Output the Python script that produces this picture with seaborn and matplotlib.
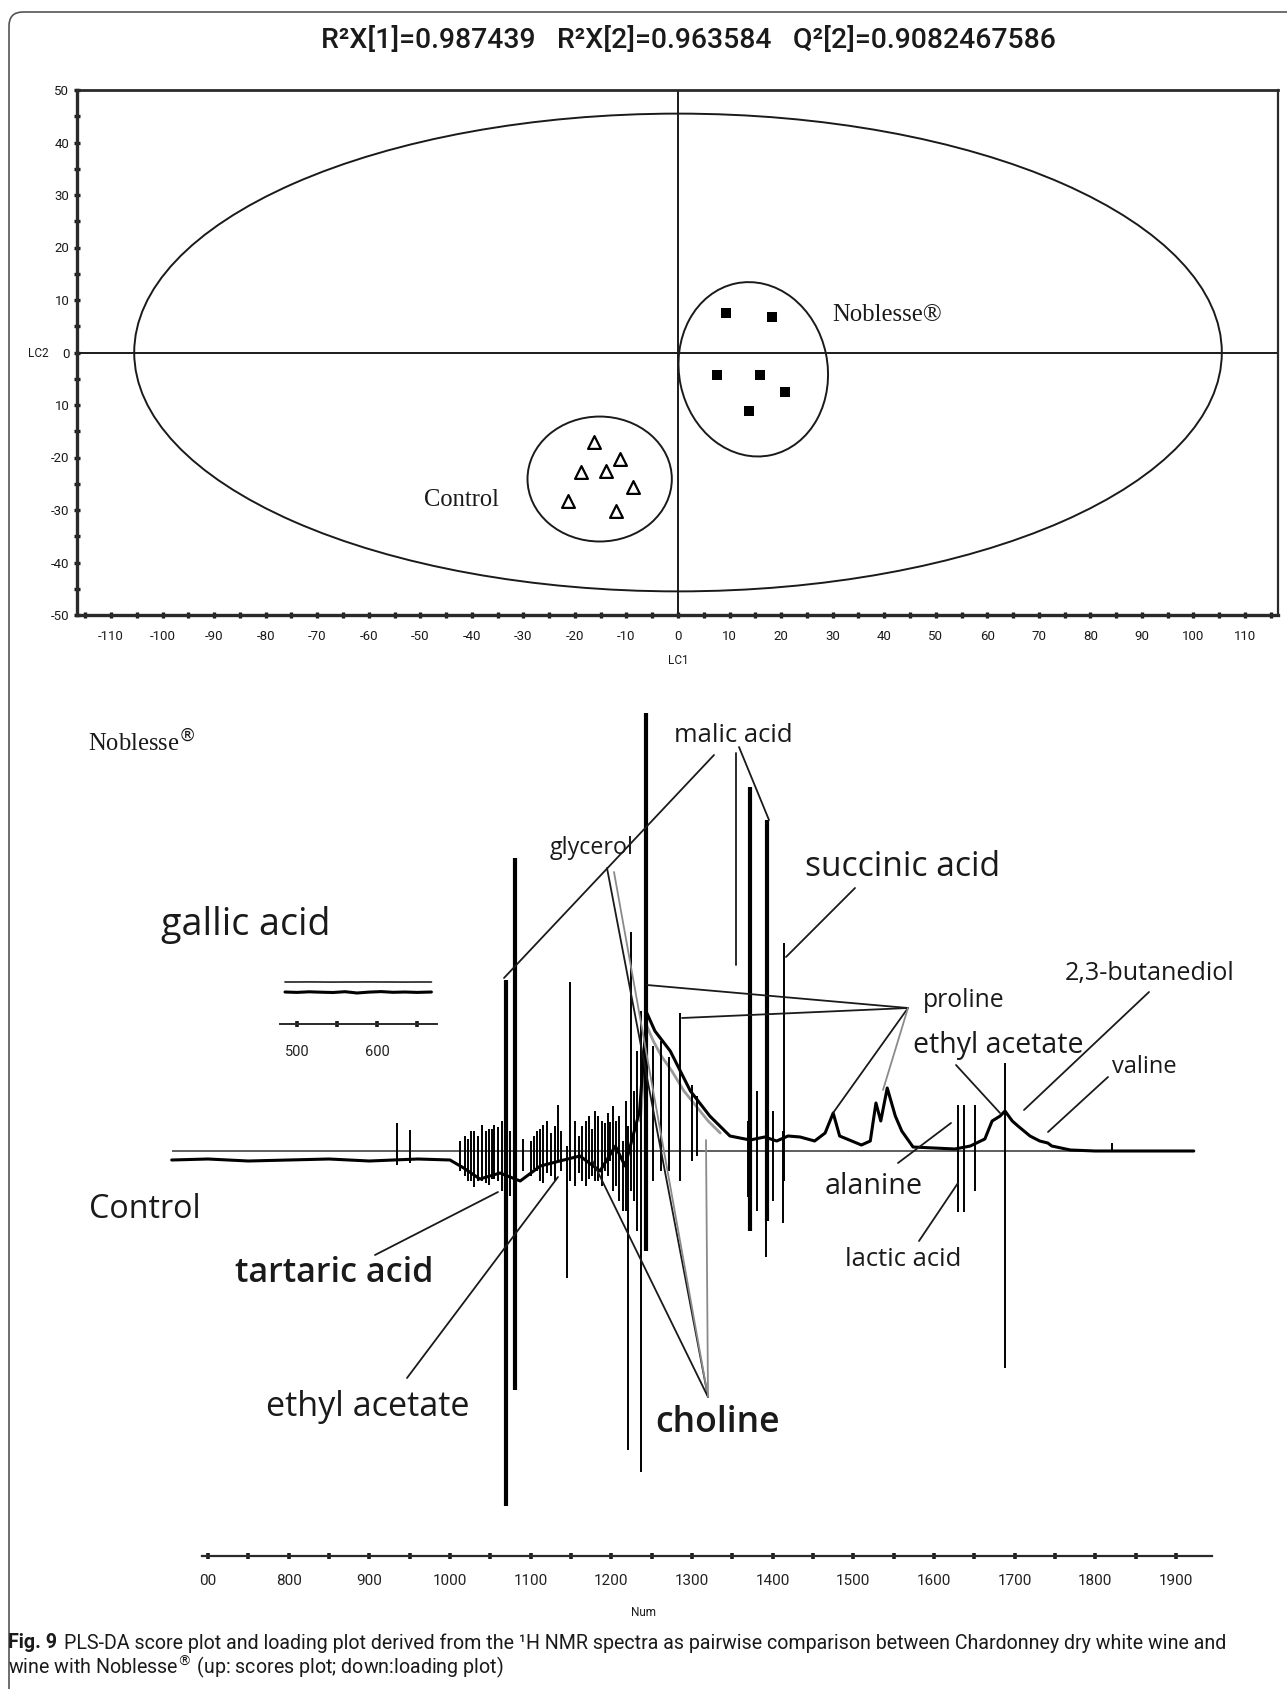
import numpy as np
import pandas as pd
import matplotlib
matplotlib.use("Agg")
import matplotlib.pyplot as plt
import matplotlib.font_manager as fm
from matplotlib.patches import Ellipse, FancyBboxPatch
import seaborn as sns

# ---------------- data ----------------
title_text = "R²X[1]=0.987439   R²X[2]=0.963584   Q²[2]=0.9082467586"

# PLS-DA scores
noblesse_lc1 = [9.3, 18.3, 7.5, 16.0, 20.8, 13.7]
noblesse_lc2 = [7.6, 6.7, -4.2, -4.2, -7.6, -11.1]
control_lc1 = [-16.3, -11.3, -18.8, -14.0, -8.7, -21.3, -12.1]
control_lc2 = [-17.0, -20.2, -22.7, -22.5, -25.6, -28.2, -30.2]

# confidence ellipses: centre x, centre y, half width, half height, angle
big_ellipse = [0.0, 0.0, 105.5, 45.5, 0]
noblesse_ellipse = [14.6, -3.2, 14.4, 16.7, 12]
control_ellipse = [-15.2, -24.1, 14.0, 11.9, 0]

score_xticks = list(range(-110, 111, 10))
score_xlabels = [str(v) for v in score_xticks]
score_yticks = list(range(-50, 51, 10))
score_ylabels = ["-50", "-40", "-30", "-20", "10", "0", "10", "20", "30", "40", "50"]

# loading plot: continuous trace
trace_num = [655, 700, 750, 800, 850, 900, 930, 960, 1000, 1017,
             1037, 1062, 1087, 1112, 1136, 1161, 1186, 1205, 1217, 1235,
             1244, 1254, 1273, 1298, 1322, 1347, 1372, 1390, 1405, 1419,
             1434, 1452, 1465, 1475, 1483, 1510, 1521, 1528, 1534, 1542,
             1552, 1560, 1574, 1600, 1626, 1645, 1663, 1672, 1682, 1688,
             1697, 1704, 1719, 1731, 1741, 1746, 1769, 1800, 1850, 1922]
trace_val = [-0.09, -0.08, -0.10, -0.09, -0.08, -0.10, -0.09, -0.08, -0.09, -0.17,
             -0.28, -0.22, -0.30, -0.15, -0.10, -0.05, -0.20, 0.05, -0.15, 0.40,
             1.38, 1.20, 1.00, 0.60, 0.35, 0.15, 0.11, 0.14, 0.10, 0.15,
             0.14, 0.10, 0.18, 0.38, 0.15, 0.06, 0.10, 0.48, 0.30, 0.63,
             0.35, 0.20, 0.04, 0.03, 0.02, 0.05, 0.12, 0.30, 0.35, 0.40,
             0.30, 0.25, 0.15, 0.10, 0.08, 0.05, 0.01, 0.00, 0.00, 0.00]

# loading plot: sharp peaks (position, positive extent, negative extent)
stick_num = [934, 950, 1012, 1018, 1022, 1026, 1030, 1035, 1040, 1044,
             1048, 1052, 1055, 1059, 1064, 1069, 1074, 1081, 1090, 1100,
             1104, 1108, 1112, 1115, 1120, 1125, 1130, 1134, 1138, 1145,
             1149, 1155, 1160, 1164, 1168, 1172, 1176, 1180, 1184, 1188,
             1192, 1196, 1198, 1202, 1206, 1210, 1214, 1218, 1221, 1224,
             1228, 1232, 1237, 1243, 1252, 1262, 1271, 1285, 1300, 1306,
             1369, 1372, 1380, 1392, 1393, 1400, 1413, 1414, 1630, 1637,
             1651, 1688, 1821]
stick_top = [0.28, 0.21, 0.10, 0.15, 0.12, 0.20, 0.20, 0.15, 0.26, 0.20,
             0.22, 0.22, 0.26, 0.24, 0.30, 1.71, 0.20, 2.93, 0.12, 0.10,
             0.15, 0.20, 0.22, 0.26, 0.30, 0.18, 0.25, 0.46, 0.20, 0.05,
             1.69, 0.30, 0.15, 0.25, 0.30, 0.35, 0.22, 0.40, 0.35, 0.30,
             0.28, 0.38, 0.29, 0.45, 0.30, 0.35, 0.10, 0.50, 0.25, 2.19,
             0.60, 1.00, 1.40, 4.38, 1.05, 1.10, 0.94, 1.38, 0.66, 0.55,
             0.30, 3.64, 0.60, 0.40, 3.31, 0.40, 0.20, 2.08, 0.46, 0.46,
             0.46, 0.88, 0.08]
stick_bottom = [-0.14, -0.12, -0.20, -0.25, -0.30, -0.30, -0.36, -0.30, -0.30, -0.32,
                -0.34, -0.28, -0.28, -0.30, -0.40, -3.55, -0.45, -2.39, -0.20, -0.25,
                -0.18, -0.20, -0.30, -0.32, -0.22, -0.25, -0.30, -0.10, -0.20, -1.27,
                -0.30, -0.35, -0.22, -0.30, -0.35, -0.28, -0.25, -0.30, -0.30, -0.35,
                -0.20, -0.25, -0.10, -0.40, -0.35, -0.50, -0.60, -0.60, -2.99, -0.40,
                -0.50, -0.80, -3.21, -1.00, -0.30, -0.20, -0.20, -0.30, -0.10, -0.05,
                -0.46, -0.80, -0.60, -1.06, -0.70, -0.50, -0.72, -0.30, -0.61, -0.61,
                -0.40, -2.17, 0.00]

gray_num = [1236, 1244, 1252, 1262, 1275, 1290, 1305, 1320, 1335]
gray_val = [0.30, 1.25, 1.10, 0.95, 0.80, 0.60, 0.45, 0.30, 0.18]

num_ticks = list(range(700, 1901, 100))
num_labels = ["00", "800", "900", "1000", "1100", "1200", "1300", "1400",
              "1500", "1600", "1700", "1800", "1900"]

# gallic-acid inset
inset_num = [485, 500, 515, 530, 545, 560, 575, 590, 605, 620, 635, 650, 668]
inset_upper = [42.0, 42.0, 42.1, 42.0, 41.9, 42.0, 42.0, 42.1, 42.0, 42.0, 41.9, 42.0, 42.0]
inset_lower = [32.0, 31.6, 32.2, 31.8, 31.5, 32.3, 31.0, 31.9, 32.4, 31.7, 32.0, 31.6, 32.0]
inset_ticks = [500, 550, 600, 650]
inset_labels = ["500", "", "600", ""]

# ---------------- style ----------------
sns.set_theme(style="white")


def avail(name):
    try:
        fm.findfont(fm.FontProperties(family=name), fallback_to_default=False)
        return True
    except Exception:
        return False


NARROW = next((f for f in ["Liberation Sans Narrow", "Roboto", "DejaVu Sans"] if avail(f)), "DejaVu Sans")
HUMAN = next((f for f in ["Open Sans", "Noto Sans", "DejaVu Sans"] if avail(f)), "DejaVu Sans")
SERIF = next((f for f in ["Liberation Serif", "DejaVu Serif"] if avail(f)), "DejaVu Serif")
plt.rcParams["font.family"] = [NARROW, "DejaVu Sans"]
plt.rcParams["mathtext.fontset"] = "dejavusans"

W, H = 1287, 1689
fig = plt.figure(figsize=(W / 100, H / 100), dpi=100)
fig.patch.set_facecolor("white")


def px_axes(l, t, r, b):
    return fig.add_axes([l / W, 1 - b / H, (r - l) / W, (b - t) / H])


INK = "#1a1a1a"

# ---------------- score plot ----------------
ax = px_axes(77, 90, 1278, 615)
ax.set_facecolor("white")
ax.axhline(0, color=INK, lw=1.4, zorder=1)
ax.axvline(0, color=INK, lw=1.4, zorder=1)
for cx, cy, a, b, ang in [big_ellipse, noblesse_ellipse, control_ellipse]:
    ax.add_patch(Ellipse((cx, cy), 2 * a, 2 * b, angle=ang, fill=False,
                         ec=INK, lw=1.4, zorder=2))
sns.scatterplot(x=noblesse_lc1, y=noblesse_lc2, marker="s", color="black",
                s=55, linewidth=0, ax=ax, zorder=3)
sns.scatterplot(x=control_lc1, y=control_lc2, marker="^", color="white",
                edgecolor="black", s=85, linewidth=1.6, ax=ax, zorder=3)
ax.set_xlim(-116.6, 116.4)
ax.set_ylim(-50, 50)
ax.set_xticks(score_xticks)
ax.set_xticklabels(score_xlabels)
ax.set_xticks(list(range(-115, 116, 10)), minor=True)
ax.set_yticks(score_yticks)
ax.set_yticklabels(score_ylabels)
ax.set_yticks(list(range(-45, 50, 10)), minor=True)
ax.tick_params(axis="both", which="both", bottom=True, left=True, top=False, right=False,
               direction="inout", length=5, width=2.4, color=INK)
ax.tick_params(axis="x", which="major", labelsize=9.5, pad=8, labelcolor=INK)
ax.tick_params(axis="y", which="major", labelsize=9.5, pad=3, labelcolor=INK)
ax.set_xlabel("")
ax.set_ylabel("")
for side, lw in [("left", 2.4), ("bottom", 2.4), ("top", 2.0), ("right", 1.6)]:
    ax.spines[side].set_linewidth(lw)
    ax.spines[side].set_color("#2a2a2a")

# ---------------- loading plot ----------------
AX_BOTTOM = 1556
axL = px_axes(160, 690, 1230, AX_BOTTOM)
axL.set_facecolor("none")
axL.hlines(0, trace_num[0], trace_num[-1], color="#333333", lw=1.1, zorder=1)
sns.lineplot(x=gray_num, y=gray_val, estimator=None, sort=False, color="#9a9a9a",
             lw=2.0, ax=axL, zorder=2)
sns.lineplot(x=trace_num, y=trace_val, estimator=None, sort=False, color="black",
             lw=2.2, ax=axL, zorder=3)
lws = [3.0 if (t >= 2.5 or b <= -3.3) else 1.4 for t, b in zip(stick_top, stick_bottom)]
axL.vlines(stick_num, stick_bottom, stick_top, colors="black", linewidths=lws, zorder=4)
axL.set_xlim(640.5, 1966.9)
axL.set_ylim((1151 - AX_BOTTOM) / 100, 4.61)
for side in ["left", "right", "top"]:
    axL.spines[side].set_visible(False)
axL.spines["bottom"].set_bounds(692, 1945)
axL.spines["bottom"].set_linewidth(1.6)
axL.spines["bottom"].set_color("#2a2a2a")
axL.set_xticks(num_ticks)
axL.set_xticklabels(num_labels)
axL.set_xticks(list(range(750, 1900, 100)), minor=True)
axL.set_yticks([])
axL.tick_params(axis="x", which="both", bottom=True, direction="inout", length=4,
                width=2.6, color=INK, labelsize=11, pad=11, labelcolor="#222222")
axL.set_xlabel("")
axL.set_ylabel("")

# gallic acid inset scale
axI = px_axes(275, 970, 445, 1024)
axI.set_facecolor("none")
sns.lineplot(x=inset_num, y=inset_upper, estimator=None, sort=False, color="#333333",
             lw=1.3, ax=axI)
sns.lineplot(x=inset_num, y=inset_lower, estimator=None, sort=False, color="black",
             lw=2.2, ax=axI)
axI.set_xlim(472.5, 685)
axI.set_ylim(0, 54)
for side in ["left", "right", "top"]:
    axI.spines[side].set_visible(False)
axI.spines["bottom"].set_bounds(479, 675)
axI.spines["bottom"].set_linewidth(1.4)
axI.spines["bottom"].set_color("#2a2a2a")
axI.set_xticks(inset_ticks)
axI.set_xticklabels(inset_labels)
axI.set_yticks([])
axI.tick_params(axis="x", bottom=True, direction="inout", length=4, width=2.6,
                color=INK, labelsize=10.5, pad=13, labelcolor="#222222")

# ---------------- overlay (text, leaders, frame) ----------------
ov = fig.add_axes([0, 0, 1, 1], zorder=10)
ov.set_xlim(0, W)
ov.set_ylim(H, 0)
ov.axis("off")
ov.patch.set_alpha(0)

ov.add_patch(FancyBboxPatch((9, 12), 1320, 1720, boxstyle="round,pad=0,rounding_size=14",
                            fill=False, ec="#555555", lw=1.2))

fits = []


def txt(x, y, s, w=None, ha="left", family=None, weight="normal", size=14, color=INK):
    fam = [family, "DejaVu Sans"] if family else None
    t = ov.text(x, y, s, ha=ha, va="center", fontsize=size, color=color,
                family=fam, fontweight=weight)
    if w:
        fits.append((t, w))
    return t


txt(688, 40, title_text, 735, ha="center", family=NARROW, size=20, weight="medium")
txt(38, 353, "LC2", family=NARROW, size=8.5, ha="center")
txt(678, 661, "LC1", family=NARROW, size=8.5, ha="center")
txt(832, 315, "Noblesse®", 110, family=SERIF, size=17)
txt(424, 500, "Control", 75, family=SERIF, size=17)

# loading labels
txt(88, 743, r"Noblesse$^{\circledR}$", 108, family=SERIF, size=15)
txt(674, 735, "malic acid", 118, family=HUMAN, size=15)
txt(550, 848, "glycerol", 84, family=HUMAN, size=14)
txt(161, 925, "gallic acid", 169, family=HUMAN, size=20)
txt(805, 867, "succinic acid", 195, family=HUMAN, size=20)
txt(1065, 973, "2,3-butanediol", 170, family=HUMAN, size=15)
txt(923, 1000, "proline", 82, family=HUMAN, size=14)
txt(913, 1045, "ethyl acetate", 171, family=HUMAN, size=16)
txt(1112, 1067, "valine", 65, family=HUMAN, size=14)
txt(825, 1187, "alanine", 98, family=HUMAN, size=15)
txt(845, 1260, "lactic acid", 117, family=HUMAN, size=14)
txt(89, 1210, "Control", 112, family=HUMAN, size=19)
txt(235, 1273, "tartaric acid", 198, family=HUMAN, size=20, weight="semibold")
txt(266, 1407, "ethyl acetate", 203, family=HUMAN, size=20)
txt(655, 1423, "choline", 125, family=HUMAN, size=20, weight="semibold")
txt(644, 1613, "Num", family=NARROW, size=8.5, ha="center")

# caption
cap_bold = txt(8, 1643, "Fig. 9", family=NARROW, weight="bold", size=12)
cap1 = ov.annotate("PLS-DA score plot and loading plot derived from the ¹H NMR spectra as "
                   "pairwise comparison between Chardonney dry white wine and",
                   xy=(1, 0.5), xycoords=cap_bold, xytext=(5, 0), textcoords="offset points",
                   va="center", ha="left", fontsize=12, family=[NARROW, "DejaVu Sans"],
                   color=INK)
cap2 = txt(8, 1667, r"wine with Noblesse$^{\circledR}$ (up: scores plot; down:loading plot)",
           family=NARROW, size=12)

# leader lines
GRAY = "#8a8a8a"
leaders = [
    (714, 755, 504, 978, INK), (736, 753, 736, 965, INK), (739, 747, 769, 820, INK),
    (855, 888, 786, 957, INK),
    (1149, 992, 1024, 1110, INK),
    (956, 1065, 1000, 1113, INK),
    (1108, 1077, 1048, 1132, INK),
    (898, 1163, 951, 1123, INK),
    (919, 1241, 958, 1183, INK),
    (908, 1008, 647, 985, INK), (908, 1008, 682, 1018, INK),
    (908, 1008, 833, 1113, INK), (908, 1008, 883, 1090, GRAY),
    (375, 1255, 498, 1192, INK),
    (407, 1378, 558, 1177, INK),
    (708, 1397, 607, 868, INK), (708, 1397, 614, 872, GRAY),
    (708, 1397, 592, 1160, INK), (708, 1397, 706, 1140, GRAY),
]
for x1, y1, x2, y2, c in leaders:
    ov.plot([x1, x2], [y1, y2], color=c, lw=1.3, solid_capstyle="round")

# fit text widths
fig.canvas.draw()
r = fig.canvas.get_renderer()
for t, w in fits:
    bb = t.get_window_extent(r)
    if bb.width > 0:
        t.set_fontsize(t.get_fontsize() * w / bb.width)

# caption: one common size so that line 1 spans the page width
wb = cap_bold.get_window_extent(r).width
wr = cap1.get_window_extent(r).width
scale = (1219 - 7) / (wb + wr)
for t in (cap_bold, cap1, cap2):
    t.set_fontsize(12 * scale)

fig.savefig("out.png", dpi=100, facecolor="white")
